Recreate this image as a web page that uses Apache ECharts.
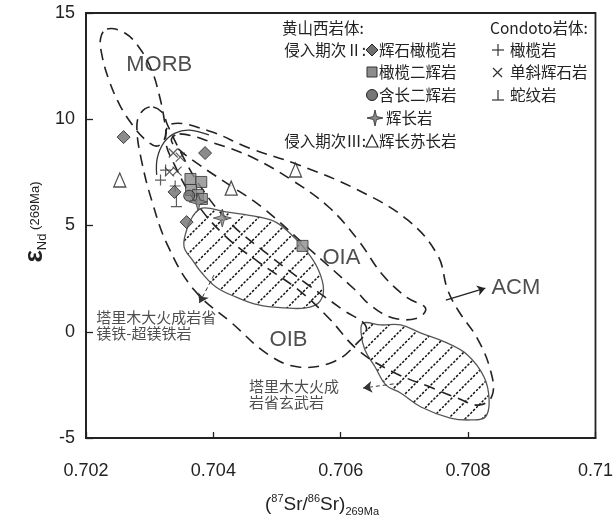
<!DOCTYPE html>
<html>
<head>
<meta charset="utf-8">
<script src="https://cdn.jsdelivr.net/npm/echarts@6/dist/echarts.min.js"></script>
<style>
html, body {margin: 0; padding: 0; background: #fff;}
#app {width: 616px; height: 522px;}
</style>
</head>
<body>
<div id="app"></div>
<script>
// 黄山西岩体 侵入期次II
var pyroxenitePeridotite = [[0.70259, 9.16], [0.70387, 8.41], [0.70339, 6.58], [0.70358, 5.16]]
var olivineWebsterite = [[0.70364, 7.19], [0.70381, 7.05], [0.70365, 6.67], [0.70376, 6.44], [0.70382, 6.25], [0.70540, 4.04]]
var plagWebsterite = [[0.70362, 6.40]]
var gabbro = [[0.70414, 5.35], [0.70376, 6.11]]
// 侵入期次III
var gabbronorite = [[0.70253, 7.14], [0.70428, 6.76], [0.70529, 7.61]]
// Condoto岩体
var condotoPeridotite = [[0.70325, 7.61], [0.70317, 7.14], [0.70340, 6.86]]
var condotoClinopyroxenite = [[0.70337, 8.41], [0.70348, 8.22], [0.70331, 7.52], [0.70343, 7.56]]
var condotoSerpentinite = [[0.70342, 6.15]]

// 轴刻度
var xTicks = [0.702, 0.704, 0.706, 0.708, 0.710]
var yTicks = [-5, 0, 5, 10, 15]

// 区域边界 (Sr, εNd)
var morbField = [[0.70233, 14.25], [0.70261, 14.06], [0.70284, 13.35], [0.70303, 12.32], [0.70315, 11.14], [0.70323, 9.96], [0.70325, 9.21], [0.70312, 8.74], [0.70294, 9.02], [0.70273, 9.73], [0.70253, 10.67], [0.70236, 11.85], [0.70225, 13.02], [0.70223, 13.82]]
var oibField = [[0.70300, 10.58], [0.70284, 10.20], [0.70280, 9.49], [0.70287, 8.08], [0.70303, 6.20], [0.70328, 4.08], [0.70370, 1.96], [0.70429, 0.41], [0.70487, -1.09], [0.70534, -1.66], [0.70588, -1.42], [0.70623, -0.62], [0.70640, 0.22], [0.70604, 1.02], [0.70549, 2.20], [0.70487, 3.61], [0.70425, 5.16], [0.70378, 6.91], [0.70347, 8.55], [0.70328, 9.73], [0.70319, 10.34]]
var oiaField = [[0.70347, 9.31], [0.70401, 8.88], [0.70460, 8.22], [0.70523, 7.14], [0.70581, 5.87], [0.70627, 4.32], [0.70666, 2.67], [0.70705, 1.59], [0.70733, 1.12], [0.70721, 0.65], [0.70682, 0.65], [0.70646, 1.26], [0.70623, 1.96], [0.70549, 3.94], [0.70476, 5.87], [0.70425, 6.91], [0.70378, 7.85], [0.70347, 8.55], [0.70334, 9.02]]
var acmField = [[0.70334, 9.78], [0.70393, 9.45], [0.70456, 8.65], [0.70534, 7.85], [0.70627, 6.67], [0.70705, 5.26], [0.70752, 3.61], [0.70768, 1.96], [0.70786, 0.93], [0.70814, -0.29], [0.70835, -1.80], [0.70838, -2.98], [0.70818, -3.45], [0.70783, -3.12], [0.70744, -2.65], [0.70682, -1.89], [0.70627, -0.86], [0.70581, 0.65], [0.70534, 1.96], [0.70471, 3.28], [0.70417, 4.55], [0.70370, 6.20], [0.70339, 7.85], [0.70325, 9.02]]
var solidArc = [[0.70311, 7.38], [0.70312, 8.18], [0.70323, 8.93], [0.70340, 9.35], [0.70362, 9.49], [0.70393, 9.26]]
var tarimUltramafic = [[0.70367, 5.40], [0.70382, 5.82], [0.70420, 5.64], [0.70471, 5.40], [0.70498, 5.16], [0.70523, 4.55], [0.70545, 3.85], [0.70565, 2.91], [0.70573, 1.96], [0.70565, 1.35], [0.70545, 1.12], [0.70513, 1.12], [0.70471, 1.26], [0.70435, 1.64], [0.70404, 2.11], [0.70382, 2.76], [0.70367, 3.38], [0.70354, 3.99], [0.70358, 4.79]]
var tarimBasalt = [[0.70635, 0.41], [0.70663, 0.32], [0.70694, 0.32], [0.70726, -0.06], [0.70763, -0.48], [0.70799, -1.09], [0.70825, -2.13], [0.70833, -3.21], [0.70827, -4.01], [0.70804, -4.15], [0.70772, -4.06], [0.70726, -3.54], [0.70694, -2.88], [0.70671, -2.51], [0.70654, -1.66], [0.70638, -0.86], [0.70632, -0.06]]

// 箭头
var arrows = [
    [[0.70401, 2.67], [0.70378, 1.35]],
    [[0.70694, -2.41], [0.70635, -2.65]]
]
var acmArrow = [[0.70765, 1.49], [0.70827, 2.05]]

// 文字标注
var fieldNames = ['MORB', 'OIA', 'OIB', 'ACM']
var fieldNamePos = [[0.70315, 12.55], [0.70601, 3.47], [0.70518, -0.39], [0.70875, 2.06]]
var noteNames = ['塔里木大火成岩省\n镁铁-超镁铁岩', '塔里木大火成\n岩省玄武岩']
var notePos = [[0.70216, 0.30], [0.70456, -2.93]]

var cjk = '"Noto Sans CJK SC", sans-serif'
var latin = '"Liberation Sans", Arial, sans-serif'

var chart = echarts.init(document.getElementById('app'))

var hatch = (() => {
    var s = 17
    var c = document.createElement('canvas')
    c.width = s
    c.height = s
    var ctx = c.getContext('2d')
    ctx.strokeStyle = '#111'
    ctx.lineWidth = 1.5
    ctx.setLineDash([2.5, 1.5])
    ctx.beginPath()
    ctx.moveTo(0, s)
    ctx.lineTo(s, 0)
    ctx.moveTo(-2, 2)
    ctx.lineTo(2, -2)
    ctx.moveTo(s - 2, s + 2)
    ctx.lineTo(s + 2, s - 2)
    ctx.stroke()
    return c
})()

var shape = (pts, style, closed, smooth) => ({
    type: 'custom',
    silent: true,
    data: [pts[0]],
    renderItem: (params, api) => ({
        type: closed ? 'polygon' : 'polyline',
        shape: {points: pts.map(p => api.coord(p)), smooth: smooth},
        style: style
    })
})

var dashed = {fill: 'none', stroke: '#222', lineWidth: 1.6, lineDash: [11, 7]}

var strokeSym = (name, data, path, size) => ({
    name: name,
    type: 'scatter',
    data: data,
    symbol: path,
    symbolSize: size,
    itemStyle: {color: 'rgba(0,0,0,0)', borderColor: '#333', borderWidth: 1.2}
})

var star4 = 'path://M0,-10L2.2,-2.2L10,0L2.2,2.2L0,10L-2.2,2.2L-10,0L-2.2,-2.2Z'
var plusPath = 'path://M0,5L10,5M5,0L5,10'
var crossPath = 'path://M0,0L10,10M10,0L0,10'
var perpPath = 'path://M0,10L10,10M5,10L5,0'

// 图例
var legendItems = []
var text = (x, y, str, align, font) => ({
    type: 'text', x: x, y: y, silent: true,
    style: {text: str, font: font || ('15.5px ' + cjk), fill: '#222', align: align || 'left', verticalAlign: 'middle', textAlign: align || 'left', textVerticalAlign: 'middle'}
})
var sx = 372
legendItems.push(text(282, 28, '黄山西岩体:'))
legendItems.push(text(366, 50, '侵入期次Ⅱ:', 'right'))
legendItems.push(text(366, 141, '侵入期次Ⅲ:', 'right'))
legendItems.push(text(379, 50, '辉石橄榄岩'))
legendItems.push(text(379, 72, '橄榄二辉岩'))
legendItems.push(text(379, 95, '含长二辉岩'))
legendItems.push(text(386, 118, '辉长岩'))
legendItems.push(text(379, 141, '辉长苏长岩'))
legendItems.push(text(490, 28, 'Condoto岩体:'))
legendItems.push(text(510, 50, '橄榄岩'))
legendItems.push(text(510, 72, '单斜辉石岩'))
legendItems.push(text(510, 95, '蛇纹岩'))
legendItems.push({type: 'polygon', shape: {points: [[sx, 44], [sx + 6, 50], [sx, 56], [sx - 6, 50]]}, style: {fill: '#707070', stroke: '#222', lineWidth: 1}})
legendItems.push({type: 'rect', shape: {x: sx - 5, y: 67, width: 10, height: 10}, style: {fill: '#8c8c8c', stroke: '#333', lineWidth: 1}})
legendItems.push({type: 'circle', shape: {cx: sx, cy: 95, r: 5.5}, style: {fill: '#777', stroke: '#222', lineWidth: 1}})
legendItems.push({type: 'polygon', shape: {points: [[sx + 3, 110], [sx + 4.5, 116.5], [sx + 11, 118], [sx + 4.5, 119.5], [sx + 3, 126], [sx + 1.5, 119.5], [sx - 5, 118], [sx + 1.5, 116.5]]}, style: {fill: '#888', stroke: '#444', lineWidth: 1}})
legendItems.push({type: 'polygon', shape: {points: [[sx, 135], [sx + 6, 147], [sx - 6, 147]]}, style: {fill: '#fff', stroke: '#222', lineWidth: 1.2}})
legendItems.push({type: 'polyline', shape: {points: [[492, 50], [504, 50]]}, style: {stroke: '#333', lineWidth: 1.2}})
legendItems.push({type: 'polyline', shape: {points: [[498, 44], [498, 56]]}, style: {stroke: '#333', lineWidth: 1.2}})
legendItems.push({type: 'polyline', shape: {points: [[493, 68], [502, 77]]}, style: {stroke: '#333', lineWidth: 1.2}})
legendItems.push({type: 'polyline', shape: {points: [[502, 68], [493, 77]]}, style: {stroke: '#333', lineWidth: 1.2}})
legendItems.push({type: 'polyline', shape: {points: [[492, 100], [504, 100]]}, style: {stroke: '#333', lineWidth: 1.2}})
legendItems.push({type: 'polyline', shape: {points: [[498, 100], [498, 90]]}, style: {stroke: '#333', lineWidth: 1.2}})

// 轴标题
legendItems.push({
    type: 'text', x: 322, y: 505, silent: true,
    style: {
        text: '{a|(}{s|87}{a|Sr/}{s|86}{a|Sr)}{b|269Ma}',
        align: 'center', verticalAlign: 'middle', textAlign: 'center', textVerticalAlign: 'middle',
        rich: {
            a: {font: '19px ' + latin, fill: '#222', verticalAlign: 'middle', lineHeight: 24},
            s: {font: '11px ' + latin, fill: '#222', verticalAlign: 'top', lineHeight: 24},
            b: {font: '11px ' + latin, fill: '#222', verticalAlign: 'bottom', lineHeight: 20}
        }
    }
})
legendItems.push({
    type: 'text', x: 35, y: 222, rotation: Math.PI / 2, silent: true,
    style: {
        text: '{e|ε}{n|Nd}{p| (269Ma)}',
        align: 'center', verticalAlign: 'middle', textAlign: 'center', textVerticalAlign: 'middle',
        rich: {
            e: {font: 'bold 26px ' + latin, fill: '#222', verticalAlign: 'middle', lineHeight: 28},
            n: {font: '13px ' + latin, fill: '#222', verticalAlign: 'bottom', lineHeight: 22},
            p: {font: '13px ' + latin, fill: '#222', verticalAlign: 'middle', lineHeight: 22}
        }
    }
})

chart.setOption({
    animation: false,
    grid: {left: 86, top: 13, right: 17, bottom: 84, show: true, borderColor: '#222', borderWidth: 1.8},
    xAxis: {
        type: 'value', min: xTicks[0], max: xTicks[xTicks.length - 1], interval: 0.002,
        axisLine: {onZero: false, lineStyle: {color: '#222', width: 1.8}},
        axisTick: {inside: true, length: 6, lineStyle: {color: '#222', width: 1.3}},
        splitLine: {show: false},
        axisLabel: {fontSize: 18, color: '#222', margin: 24, fontFamily: latin, formatter: v => String(+v.toFixed(3))}
    },
    yAxis: {
        type: 'value', min: yTicks[0], max: yTicks[yTicks.length - 1], interval: 5,
        axisLine: {onZero: false, lineStyle: {color: '#222', width: 1.8}},
        axisTick: {inside: true, length: 7, lineStyle: {color: '#222', width: 1.3}},
        splitLine: {show: false},
        axisLabel: {fontSize: 18, color: '#222', margin: 11, fontFamily: latin}
    },
    graphic: legendItems,
    series: [
        shape(tarimUltramafic, {fill: {image: hatch, repeat: 'repeat'}, stroke: '#555', lineWidth: 1.3}, true, 0.4),
        shape(tarimBasalt, {fill: {image: hatch, repeat: 'repeat'}, stroke: '#555', lineWidth: 1.3}, true, 0.4),
        shape(morbField, dashed, true, 0.4),
        shape(oibField, dashed, true, 0.4),
        shape(oiaField, dashed, true, 0.4),
        shape(acmField, dashed, true, 0.4),
        shape(solidArc, {fill: 'none', stroke: '#333', lineWidth: 1.3}, false, 0.4),
        {
            type: 'lines', coordinateSystem: 'cartesian2d', silent: true,
            data: arrows.map(a => ({coords: a})),
            symbol: ['none', 'arrow'], symbolSize: 9,
            lineStyle: {color: '#333', width: 1, type: [4, 3], opacity: 1}
        },
        {
            type: 'lines', coordinateSystem: 'cartesian2d', silent: true,
            data: [{coords: acmArrow}],
            symbol: ['none', 'arrow'], symbolSize: 8,
            lineStyle: {color: '#222', width: 1.3, opacity: 1}
        },
        {
            type: 'scatter', silent: true, symbolSize: 1,
            itemStyle: {color: 'rgba(0,0,0,0)'},
            data: fieldNames.map((n, i) => ({name: n, value: fieldNamePos[i]})),
            label: {show: true, position: 'inside', formatter: p => p.name, fontSize: 22, color: '#222', fontFamily: latin}
        },
        {
            type: 'scatter', silent: true, symbolSize: 1,
            itemStyle: {color: 'rgba(0,0,0,0)'},
            data: noteNames.map((n, i) => ({name: n, value: notePos[i]})),
            label: {show: true, position: 'inside', align: 'left', formatter: p => p.name, fontSize: 15, lineHeight: 16, color: '#222', fontFamily: cjk}
        },
        strokeSym('橄榄岩', condotoPeridotite, plusPath, 11),
        strokeSym('单斜辉石岩', condotoClinopyroxenite, crossPath, 9),
        strokeSym('蛇纹岩', condotoSerpentinite, perpPath, 11),
        {name: '辉长苏长岩', type: 'scatter', data: gabbronorite, symbol: 'triangle', symbolSize: [12, 14], itemStyle: {color: '#fff', borderColor: '#222', borderWidth: 1.3}},
        {name: '橄榄二辉岩', type: 'scatter', data: olivineWebsterite, symbol: 'rect', symbolSize: 11, itemStyle: {color: '#8c8c8c', borderColor: '#333', borderWidth: 1}},
        {name: '含长二辉岩', type: 'scatter', data: plagWebsterite, symbol: 'circle', symbolSize: 11, itemStyle: {color: '#777', borderColor: '#222', borderWidth: 1}},
        {name: '辉石橄榄岩', type: 'scatter', data: pyroxenitePeridotite, symbol: 'diamond', symbolSize: 13, itemStyle: {color: '#6e6e6e', borderColor: '#222', borderWidth: 1}},
        {name: '辉长岩', type: 'scatter', data: gabbro, symbol: star4, symbolSize: 18, itemStyle: {color: '#8a8a8a', borderColor: '#444', borderWidth: 1}}
    ]
})
</script>
</body>
</html>
